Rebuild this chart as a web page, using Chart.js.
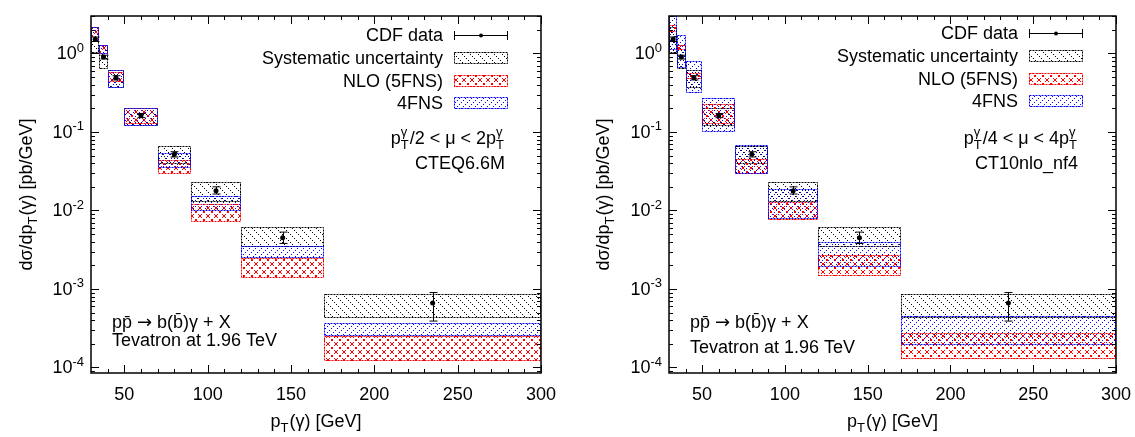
<!DOCTYPE html>
<html>
<head>
<meta charset="utf-8">
<script src="https://cdn.jsdelivr.net/npm/chart.js@4.4.0/dist/chart.umd.min.js"></script>
<style>
  html, body { margin: 0; padding: 0; background: #fff; }
  #wrap { position: relative; width: 1135px; height: 437px; }
  canvas { position: absolute; top: 0; }
</style>
</head>
<body>
<div id="wrap">
  <canvas id="left" width="567" height="437" style="left:0"></canvas>
  <canvas id="right" width="568" height="437" style="left:567px"></canvas>
</div>
<script>
// pT(gamma) bins [GeV]
const binLo = [30, 35, 40, 50, 70, 90, 120, 170];
const binHi = [35, 40, 50, 70, 90, 120, 170, 300];
const ptCenter = [32.5, 37.5, 45, 60, 80, 105, 145, 235];

// CDF data, stat errors and systematic band [pb/GeV]
const cdfData = [1.52, 0.90, 0.49, 0.162, 0.052, 0.0178, 0.0045, 0.00066];
const statLo  = [1.42, 0.85, 0.46, 0.152, 0.048, 0.0162, 0.0038, 0.00039];
const statHi  = [1.62, 0.95, 0.52, 0.172, 0.056, 0.0200, 0.0053, 0.00090];
const sysLo   = [1.00, 0.64, 0.36, 0.118, 0.039, 0.0128, 0.0034, 0.00043];
const sysHi   = [2.20, 1.28, 0.62, 0.200, 0.066, 0.0232, 0.0062, 0.00086];

// left panel: CTEQ6.6M, pT/2 < mu < 2pT
const nlo5LoA = [1.38, 0.97, 0.43, 0.125, 0.029, 0.0071, 0.00138, 0.000122];
const nlo5HiA = [2.20, 1.30, 0.58, 0.200, 0.044, 0.0121, 0.00248, 0.000254];
const fns4LoA = [1.38, 0.97, 0.36, 0.120, 0.035, 0.0098, 0.00248, 0.000254];
const fns4HiA = [2.20, 1.30, 0.61, 0.200, 0.054, 0.0152, 0.00353, 0.000370];

// right panel: CT10nlo_nf4, pT/4 < mu < 4pT
const nlo5LoB = [1.90, 1.12, 0.47, 0.125, 0.029, 0.0076, 0.00147, 0.000129];
const nlo5HiB = [2.30, 1.30, 0.57, 0.225, 0.045, 0.0128, 0.00270, 0.000277];
const fns4LoB = [1.12, 0.66, 0.31, 0.100, 0.029, 0.0078, 0.00190, 0.000195];
const fns4HiB = [3.00, 1.70, 0.81, 0.270, 0.068, 0.0188, 0.00400, 0.000450];

const xTicks = [50, 100, 150, 200, 250, 300];
const yTicks = [1, 0.1, 0.01, 0.001, 0.0001];
const yTickExp = ['0', '-1', '-2', '-3', '-4'];

const FONT = '"Liberation Sans", Arial, Helvetica, sans-serif';
const FS = 18;

// dotted hatch patterns, gnuplot style
function makePattern(color, kind) {
  const s = kind === 'fwd' ? 6 : 8;
  const c = document.createElement('canvas');
  c.width = s; c.height = s;
  const g = c.getContext('2d');
  g.fillStyle = color;
  for (let i = 0; i < s; i++) {
    const on = kind === 'cross' ? i % 3 !== 2 : i % 2 === 0;
    if (!on) continue;
    if (kind === 'back' || kind === 'cross') g.fillRect(i, i, 1, 1);
    if (kind === 'fwd' || kind === 'cross') g.fillRect(s - 1 - i, i, 1, 1);
  }
  return g.createPattern(c, 'repeat');
}

// rich text: segments [text, kind, extra]
function segWidth(ctx, seg, size) {
  const [t, kind, extra] = seg;
  if (kind === 'n') { ctx.font = size + 'px ' + FONT; return ctx.measureText(t).width; }
  if (kind === 'sym') { ctx.font = size + 'px "DejaVu Sans", sans-serif'; return ctx.measureText(t).width; }
  ctx.font = Math.round(size * 0.7) + 'px ' + FONT;
  const w = ctx.measureText(t).width;
  if (kind === 'ss') return Math.max(w, ctx.measureText(extra).width) + 1;
  return w + 1;
}
function drawRich(ctx, segs, x, y, size, align) {
  let w = 0;
  segs.forEach(s => { w += segWidth(ctx, s, size); });
  let cx = align === 'right' ? x - w : align === 'center' ? x - w / 2 : x;
  ctx.textAlign = 'left';
  ctx.textBaseline = 'alphabetic';
  segs.forEach(s => {
    const [t, kind, extra] = s;
    const sw = segWidth(ctx, s, size);
    if (kind === 'n') {
      ctx.font = size + 'px ' + FONT; ctx.fillText(t, cx, y);
    } else if (kind === 'sym') {
      ctx.font = size + 'px "DejaVu Sans", sans-serif'; ctx.fillText(t, cx, y);
    } else {
      ctx.font = Math.round(size * 0.7) + 'px ' + FONT;
      if (kind === 'sub') ctx.fillText(t, cx, y + size * 0.28);
      if (kind === 'sup') ctx.fillText(t, cx, y - size * 0.42);
      if (kind === 'ss') { ctx.fillText(t, cx, y - size * 0.42); ctx.fillText(extra, cx, y + size * 0.28); }
    }
    cx += sw;
  });
}

function makeChart(id, nlo5Lo, nlo5Hi, fns4Lo, fns4Hi, info) {
  const bands = {
    id: 'bands',
    beforeDatasetsDraw(chart) {
      const { ctx, chartArea: a, scales: { x, y } } = chart;
      ctx.save();
      ctx.beginPath(); ctx.rect(a.left, a.top, a.right - a.left, a.bottom - a.top); ctx.clip();
      const sets = [
        [sysLo, sysHi, makePattern('#000000', 'back'), '#000000'],
        [nlo5Lo, nlo5Hi, makePattern('#ff0000', 'cross'), '#ff0000'],
        [fns4Lo, fns4Hi, makePattern('#0000ff', 'fwd'), '#0000ff'],
      ];
      sets.forEach(([lo, hi, pat, col]) => {
        for (let i = 0; i < binLo.length; i++) {
          const x0 = Math.round(x.getPixelForValue(binLo[i])), x1 = Math.round(x.getPixelForValue(binHi[i]));
          const y0 = Math.round(y.getPixelForValue(hi[i])), y1 = Math.round(y.getPixelForValue(lo[i]));
          ctx.fillStyle = pat;
          ctx.fillRect(x0, y0, x1 - x0, y1 - y0);
          ctx.setLineDash([2, 1]);
          ctx.strokeStyle = col; ctx.lineWidth = 1;
          ctx.strokeRect(x0 + 0.5, y0 + 0.5, x1 - x0 - 1, y1 - y0 - 1);
        }
      });
      // statistical error bars
      ctx.setLineDash([]);
      ctx.strokeStyle = '#000'; ctx.lineWidth = 1;
      for (let i = 0; i < ptCenter.length; i++) {
        const px = Math.round(x.getPixelForValue(ptCenter[i])) + 0.5;
        const ya = y.getPixelForValue(statHi[i]), yb = y.getPixelForValue(statLo[i]);
        ctx.beginPath();
        ctx.moveTo(px, ya); ctx.lineTo(px, yb);
        ctx.moveTo(px - 4, ya); ctx.lineTo(px + 4, ya);
        ctx.moveTo(px - 4, yb); ctx.lineTo(px + 4, yb);
        ctx.stroke();
      }
      ctx.restore();
    },
    afterDraw(chart) {
      const { ctx, chartArea: a, scales: { x, y } } = chart;
      ctx.save();
      ctx.fillStyle = '#000'; ctx.strokeStyle = '#000';
      // ticks (inward, mirrored)
      ctx.lineWidth = 1;
      ctx.beginPath();
      for (let v = 40; v <= 300; v += 10) {
        const px = Math.round(x.getPixelForValue(v)) + 0.5;
        const len = v % 50 === 0 ? 8 : 4;
        ctx.moveTo(px, a.bottom); ctx.lineTo(px, a.bottom - len);
        ctx.moveTo(px, a.top); ctx.lineTo(px, a.top + len);
      }
      for (let e = -5; e <= 0; e++) {
        for (let m = 1; m <= 9; m++) {
          const v = m * Math.pow(10, e);
          if (v < y.min || v > y.max) continue;
          const py = Math.round(y.getPixelForValue(v)) + 0.5;
          const len = m === 1 ? 8 : 4;
          ctx.moveTo(a.left, py); ctx.lineTo(a.left + len, py);
          ctx.moveTo(a.right, py); ctx.lineTo(a.right - len, py);
        }
      }
      ctx.stroke();
      // frame
      ctx.lineWidth = 1.5;
      ctx.strokeRect(a.left, a.top, a.right - a.left, a.bottom - a.top);
      // tick labels
      ctx.font = FS + 'px ' + FONT;
      ctx.textAlign = 'center'; ctx.textBaseline = 'alphabetic';
      xTicks.forEach(v => ctx.fillText(String(v), x.getPixelForValue(v), a.bottom + 27));
      yTicks.forEach((v, i) => {
        drawRich(ctx, [['10', 'n'], [yTickExp[i], 'sup']], a.left - 6, y.getPixelForValue(v) + 6, FS, 'right');
      });
      // axis titles
      drawRich(ctx, [['p', 'n'], ['T', 'sub'], ['(γ) [GeV]', 'n']], (a.left + a.right) / 2, a.bottom + 54, FS, 'center');
      ctx.save();
      ctx.translate(info.ytitleX, (a.top + a.bottom) / 2);
      ctx.rotate(-Math.PI / 2);
      drawRich(ctx, [['dσ/dp', 'n'], ['T', 'sub'], ['(γ) [pb/GeV]', 'n']], 0, 6, FS, 'center');
      ctx.restore();
      // legend
      const tr = a.right - 98, s0 = a.right - 87, s1 = a.right - 33;
      const rows = [a.top + 19, a.top + 42, a.top + 65, a.top + 87].map(r => r + info.legDy);
      const labels = ['CDF data', 'Systematic uncertainty', 'NLO (5FNS)', '4FNS'];
      ctx.font = FS + 'px ' + FONT; ctx.textAlign = 'right';
      labels.forEach((t, i) => ctx.fillText(t, tr, rows[i] + 6));
      ctx.lineWidth = 1;
      ctx.beginPath();
      ctx.moveTo(s0, rows[0] + 0.5); ctx.lineTo(s1, rows[0] + 0.5);
      ctx.moveTo(s0 + 0.5, rows[0] - 4); ctx.lineTo(s0 + 0.5, rows[0] + 5);
      ctx.moveTo(s1 - 0.5, rows[0] - 4); ctx.lineTo(s1 - 0.5, rows[0] + 5);
      ctx.stroke();
      ctx.beginPath(); ctx.arc((s0 + s1) / 2, rows[0] + 0.5, 2, 0, Math.PI * 2); ctx.fill();
      [['#000000', 'back'], ['#ff0000', 'cross'], ['#0000ff', 'fwd']].forEach(([col, kind], i) => {
        const ry = Math.round(rows[i + 1] - 6);
        ctx.fillStyle = makePattern(col, kind);
        ctx.fillRect(s0, ry, s1 - s0, 12);
        ctx.setLineDash([2, 1]); ctx.strokeStyle = col;
        ctx.strokeRect(s0 + 0.5, ry + 0.5, s1 - s0 - 1, 11);
        ctx.setLineDash([]);
      });
      ctx.fillStyle = '#000';
      drawRich(ctx, info.muText, a.right - info.muRight, a.top + 128, FS, 'right');
      ctx.font = FS + 'px ' + FONT; ctx.textAlign = 'right';
      ctx.fillText(info.pdf, a.right - info.muRight, a.top + 153);
      // process label
      drawRich(ctx, [['pp\u0304 ', 'n'], ['\u2192', 'sym'], [' b(b\u0304)γ + X', 'n']], a.left + 21, 328, FS, 'left');
      ctx.font = FS + 'px ' + FONT; ctx.textAlign = 'left';
      ctx.fillText('Tevatron at 1.96 TeV', a.left + 21, info.tevY);
      ctx.restore();
    }
  };

  return new Chart(document.getElementById(id), {
    type: 'scatter',
    data: {
      datasets: [{
        label: 'CDF data',
        data: ptCenter.map((v, i) => ({ x: v, y: cdfData[i] })),
        pointRadius: 2.5,
        pointBackgroundColor: '#000',
        pointBorderColor: '#000',
        pointBorderWidth: 0,
      }]
    },
    options: {
      responsive: false,
      animation: false,
      layout: { padding: info.pad },
      plugins: { legend: { display: false }, tooltip: { enabled: false } },
      scales: {
        x: { type: 'linear', min: 30, max: 300, display: false },
        y: { type: 'logarithmic', min: 8.5e-5, max: 3, display: false },
      }
    },
    plugins: [bands]
  });
}

makeChart('left', nlo5LoA, nlo5HiA, fns4LoA, fns4HiA, {
  pad: { left: 91, right: 26, top: 16, bottom: 64 },
  ytitleX: 26, legDy: 0, muRight: 36, tevY: 346, pdf: 'CTEQ6.6M',
  muText: [['p', 'n'], ['γ', 'ss', 'T'], ['/2 < μ < 2p', 'n'], ['γ', 'ss', 'T']],
});
makeChart('right', nlo5LoB, nlo5HiB, fns4LoB, fns4HiB, {
  pad: { left: 102, right: 19, top: 16, bottom: 64 },
  ytitleX: 603 - 567, legDy: -2, muRight: 38, tevY: 353, pdf: 'CT10nlo_nf4',
  muText: [['p', 'n'], ['γ', 'ss', 'T'], ['/4 < μ < 4p', 'n'], ['γ', 'ss', 'T']],
});
</script>
</body>
</html>
